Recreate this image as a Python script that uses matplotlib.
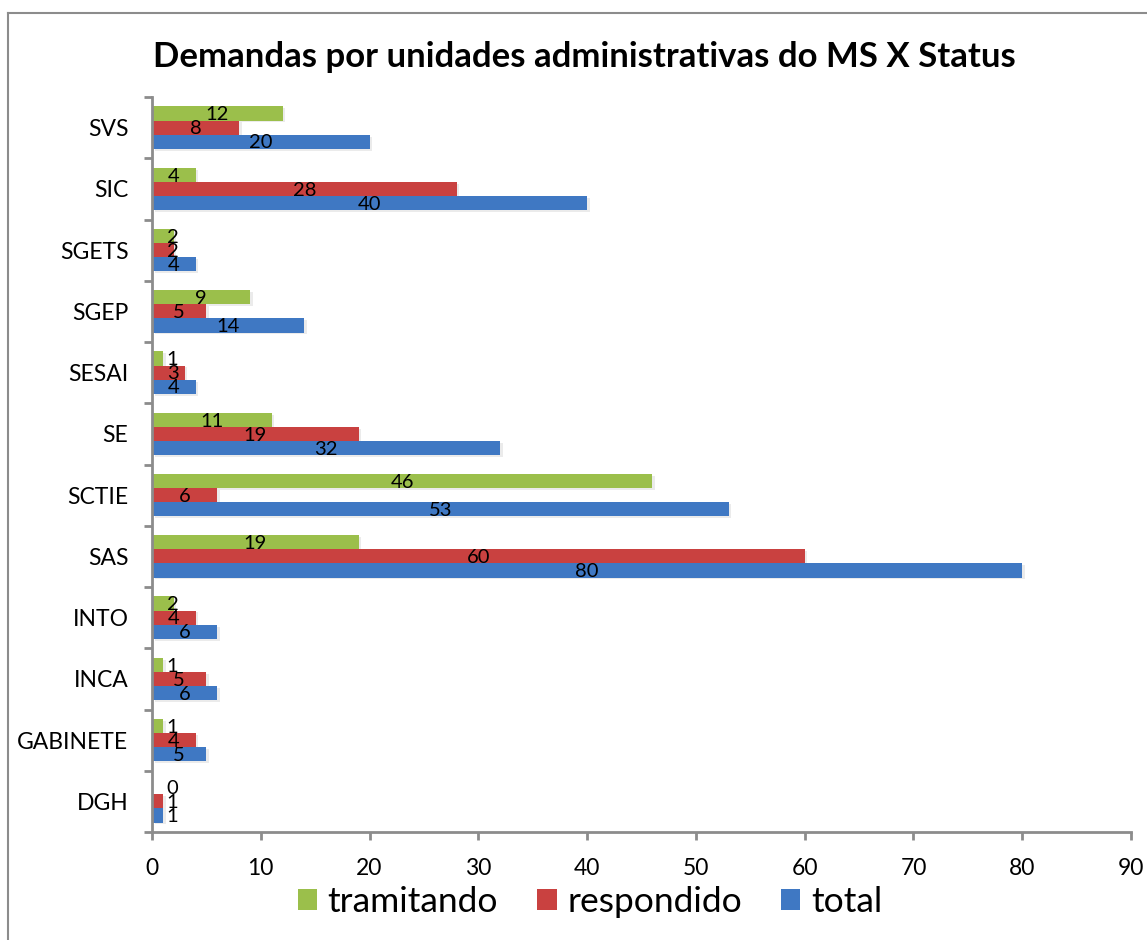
import matplotlib
matplotlib.use("Agg")
import matplotlib.pyplot as plt
import numpy as np
from matplotlib.lines import Line2D
from matplotlib.patches import Patch

categories = ["DGH", "GABINETE", "INCA", "INTO", "SAS", "SCTIE", "SE",
              "SESAI", "SGEP", "SGETS", "SIC", "SVS"]
total = [1, 5, 6, 6, 80, 53, 32, 4, 14, 4, 40, 20]
respondido = [1, 4, 5, 4, 60, 6, 19, 3, 5, 2, 28, 8]
tramitando = [0, 1, 1, 2, 19, 46, 11, 1, 9, 2, 4, 12]
x_ticks = [0, 10, 20, 30, 40, 50, 60, 70, 80, 90]

plt.rcParams['font.family'] = ['Lato', 'DejaVu Sans']

c_green = "#9BBF4B"
c_red = "#C94140"
c_blue = "#3F78C3"
spine_c = "#8C8C8C"

fig = plt.figure(figsize=(11.47, 9.4), dpi=100)
ax = fig.add_axes([152/1147, 1-832/940, (1131-152)/1147, (832-97)/940])

y = np.arange(len(categories))
h = 0.23
series = [(total, -h, c_blue, "total"),
          (respondido, 0.0, c_red, "respondido"),
          (tramitando, h, c_green, "tramitando")]
for vals, off, col, name in series:
    # subtle shadow
    ax.barh(y + off - 0.03, vals, height=h, left=0.25, color="#000000",
            alpha=0.08, zorder=1, linewidth=0)
    ax.barh(y + off, vals, height=h, color=col, zorder=2, linewidth=0)
    for yi, v in zip(y, vals):
        xl = max(v / 2.0, 1.9)
        ax.text(xl, yi + off - 0.02, str(v), ha="center", va="center",
                fontsize=14.5, color="black", zorder=3)

ax.set_xlim(0, 90)
ax.set_ylim(-0.5, len(categories) - 0.5)
ax.set_xticks(x_ticks)
ax.set_xticklabels([str(t) for t in x_ticks], fontsize=16.5)
ax.set_yticks(y)
ax.set_yticklabels(categories, fontsize=16.5)
ax.set_yticks(np.arange(-0.5, len(categories), 1.0), minor=True)
ax.tick_params(axis="y", which="major", length=0, pad=17)
ax.tick_params(axis="y", which="minor", length=6, width=2, color=spine_c, direction="out")
ax.tick_params(axis="x", which="major", length=6, width=2, color=spine_c, direction="out", pad=13)

for s in ["top", "right"]:
    ax.spines[s].set_visible(False)
for s in ["left", "bottom"]:
    ax.spines[s].set_color(spine_c)
    ax.spines[s].set_linewidth(2)

fig.text(584/1147, 1-57/940, "Demandas por unidades administrativas do MS X Status",
         ha="center", va="center", fontsize=25, fontweight="bold")

handles = [Patch(facecolor=c_green, label="tramitando"),
           Patch(facecolor=c_red, label="respondido"),
           Patch(facecolor=c_blue, label="total")]
fig.legend(handles=handles, loc="center", bbox_to_anchor=(590/1147, 1-902/940),
           ncol=3, frameon=False, fontsize=25.5, handlelength=0.55, handleheight=0.55,
           handletextpad=0.3, columnspacing=1.1)

# outer chart border (partially cut off)
fig.add_artist(Line2D([8/1147, 8/1147], [0, 1-13/940], color="#8C8C8C", lw=1.5,
                      transform=fig.transFigure))
fig.add_artist(Line2D([8/1147, 1], [1-13/940, 1-13/940], color="#8C8C8C", lw=1.5,
                      transform=fig.transFigure))

fig.savefig("out.png", dpi=100)
